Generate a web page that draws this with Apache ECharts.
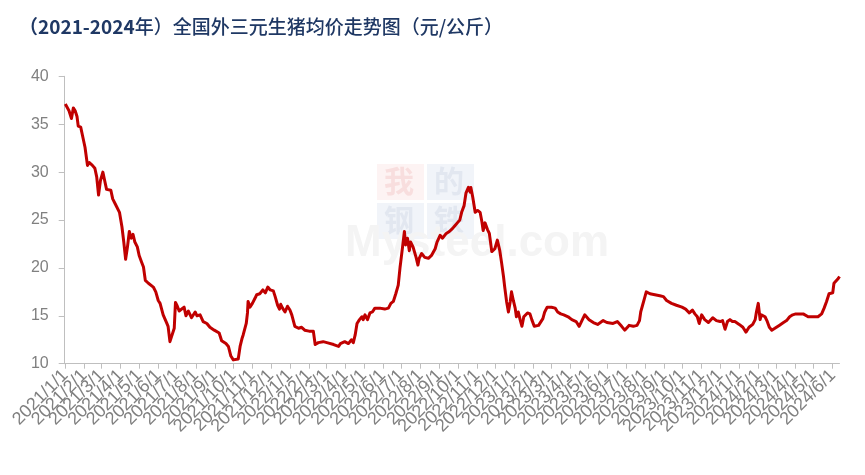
<!DOCTYPE html>
<html>
<head>
<meta charset="utf-8">
<script src="https://cdn.jsdelivr.net/npm/echarts@6/dist/echarts.min.js"></script>
<style>html,body{margin:0;padding:0;background:#fff;}#c{width:865px;height:475px;}</style>
</head>
<body>
<div id="c"></div>
<script>
// ---- data ----
const titleText = '（2021-2024年）全国外三元生猪均价走势图（元/公斤）';
const startDate = [2020, 12, 31];   // one padding day before the first point
const endDate = [2024, 6, 12];
const yTicks = [10, 15, 20, 25, 30, 35, 40];

const priceDates = [
'2021/1/1','2021/1/3','2021/1/7','2021/1/11','2021/1/14','2021/1/17','2021/1/20','2021/1/22','2021/1/26','2021/1/29',
'2021/2/2','2021/2/6','2021/2/9','2021/2/14','2021/2/18','2021/2/21','2021/2/24','2021/2/27','2021/3/3','2021/3/6',
'2021/3/9','2021/3/16','2021/3/19','2021/3/23','2021/3/30','2021/4/3','2021/4/6','2021/4/9','2021/4/12','2021/4/15',
'2021/4/18','2021/4/21','2021/4/24','2021/4/28','2021/5/1','2021/5/5','2021/5/8','2021/5/11','2021/5/16','2021/5/24',
'2021/5/28','2021/6/1','2021/6/4','2021/6/9','2021/6/15','2021/6/17','2021/6/20','2021/6/23','2021/6/27','2021/6/29',
'2021/7/2','2021/7/5','2021/7/8','2021/7/13','2021/7/16','2021/7/20','2021/7/25','2021/7/31','2021/8/3','2021/8/8',
'2021/8/13','2021/8/19','2021/8/24','2021/8/31','2021/9/8','2021/9/12','2021/9/19','2021/9/23','2021/9/27','2021/10/1',
'2021/10/9','2021/10/12','2021/10/15','2021/10/17','2021/10/22','2021/10/24','2021/10/25','2021/10/28','2021/11/1','2021/11/5',
'2021/11/8','2021/11/13','2021/11/18','2021/11/22','2021/11/26','2021/11/30','2021/12/5','2021/12/8','2021/12/12','2021/12/15',
'2021/12/17','2021/12/20','2021/12/24','2021/12/28','2022/1/1','2022/1/4','2022/1/9','2022/1/15','2022/1/20','2022/1/25',
'2022/2/1','2022/2/8','2022/2/11','2022/2/16','2022/2/24','2022/3/2','2022/3/13','2022/3/21','2022/3/24','2022/3/31',
'2022/4/6','2022/4/11','2022/4/14','2022/4/17','2022/4/20','2022/4/24','2022/4/28','2022/4/30','2022/5/3','2022/5/7',
'2022/5/11','2022/5/15','2022/5/19','2022/5/27','2022/6/4','2022/6/10','2022/6/14','2022/6/18','2022/6/22','2022/6/26',
'2022/6/29','2022/6/30','2022/7/3','2022/7/6','2022/7/8','2022/7/11','2022/7/14','2022/7/16','2022/7/20','2022/7/25',
'2022/7/28','2022/7/30','2022/8/3','2022/8/8','2022/8/14','2022/8/19','2022/8/25','2022/8/28','2022/9/2','2022/9/6',
'2022/9/12','2022/9/17','2022/9/22','2022/9/26','2022/9/30','2022/10/4','2022/10/7','2022/10/11','2022/10/14','2022/10/18',
'2022/10/21','2022/10/22','2022/10/25','2022/10/29','2022/11/2','2022/11/6','2022/11/9','2022/11/11','2022/11/14','2022/11/18',
'2022/11/21','2022/11/25','2022/11/30','2022/12/4','2022/12/8','2022/12/11','2022/12/14','2022/12/16','2022/12/19','2022/12/22',
'2022/12/25','2022/12/27','2022/12/30','2023/1/2','2023/1/4','2023/1/7','2023/1/10','2023/1/13','2023/1/16','2023/1/22',
'2023/1/26','2023/1/29','2023/2/2','2023/2/5','2023/2/9','2023/2/12','2023/2/16','2023/2/19','2023/2/23','2023/3/2',
'2023/3/8','2023/3/12','2023/3/17','2023/3/22','2023/3/29','2023/4/4','2023/4/11','2023/4/16','2023/4/22','2023/4/25',
'2023/5/2','2023/5/9','2023/5/16','2023/5/19','2023/5/25','2023/5/31','2023/6/10','2023/6/17','2023/6/24','2023/6/29',
'2023/7/6','2023/7/13','2023/7/19','2023/7/23','2023/7/25','2023/7/28','2023/7/31','2023/8/3','2023/8/9','2023/8/17',
'2023/8/25','2023/8/31','2023/9/5','2023/9/13','2023/9/21','2023/9/30','2023/10/6','2023/10/12','2023/10/17','2023/10/21',
'2023/10/25','2023/10/28','2023/11/1','2023/11/6','2023/11/12','2023/11/19','2023/11/22','2023/11/25','2023/12/1','2023/12/5',
'2023/12/9','2023/12/13','2023/12/17','2023/12/21','2023/12/25','2024/1/1','2024/1/7','2024/1/12','2024/1/17','2024/1/23',
'2024/1/27','2024/1/29','2024/2/1','2024/2/4','2024/2/6','2024/2/12','2024/2/15','2024/2/19','2024/2/23','2024/2/28',
'2024/3/6','2024/3/13','2024/3/18','2024/3/23','2024/3/28','2024/4/2','2024/4/7','2024/4/14','2024/4/22','2024/4/28',
'2024/5/3','2024/5/8','2024/5/14','2024/5/18','2024/5/22','2024/5/26','2024/5/29','2024/6/1','2024/6/3','2024/6/6',
'2024/6/10','2024/6/12'
];
const priceValues = [
37.1,37.0,36.4,35.6,36.7,36.4,35.8,34.8,34.7,33.8,
32.6,30.7,31.0,30.7,30.4,29.5,27.6,29.1,30.0,29.1,
28.2,28.1,27.2,26.7,25.8,24.3,22.7,20.9,22.2,23.8,
23.1,23.5,22.7,22.2,21.3,20.6,20.1,18.7,18.4,18.0,
17.5,16.6,16.3,15.1,14.2,13.9,12.3,12.2,13.7,16.4,
16.0,15.5,15.7,15.9,15.0,15.5,14.8,15.4,15.0,15.1,
14.4,14.2,13.8,13.5,13.2,12.4,12.1,11.8,10.8,10.4,
10.5,11.8,12.6,13.0,14.2,15.3,16.5,15.9,16.3,16.8,
17.2,17.3,17.7,17.4,18.0,17.7,17.6,17.0,16.1,15.7,
16.2,15.8,15.4,16.0,15.6,15.1,13.9,13.7,13.8,13.5,
13.4,13.4,12.0,12.2,12.3,12.2,12.0,11.8,12.1,12.3,
12.1,12.5,12.2,13.0,14.2,14.6,14.9,14.6,15.1,14.6,
15.3,15.4,15.8,15.8,15.7,15.8,16.3,16.5,17.3,18.2,
20.1,20.6,22.2,23.8,22.4,23.1,21.8,22.7,22.2,21.1,
20.3,21.0,21.5,21.1,21.0,21.3,22.0,22.7,23.4,23.1,
23.6,23.8,24.1,24.4,24.7,25.0,25.8,26.5,27.8,28.4,
27.9,28.4,27.4,25.8,26.0,25.8,24.8,23.9,24.7,24.0,
23.6,21.7,22.0,22.9,21.8,20.5,19.1,18.0,16.5,15.4,
16.5,17.5,16.6,15.8,14.9,15.4,14.6,13.9,14.9,15.3,
15.2,14.6,13.9,13.7,14.0,14.1,14.7,15.4,15.9,15.9,
15.8,15.4,15.2,15.1,14.9,14.6,14.4,13.9,14.7,15.1,
14.6,14.3,14.1,14.0,14.5,14.3,14.2,14.4,13.9,13.5,
14.0,13.9,14.0,14.5,15.4,16.1,16.8,17.5,17.3,17.2,
17.1,17.0,16.6,16.3,16.1,15.9,15.7,15.3,15.6,15.2,
14.9,14.2,15.1,14.6,14.3,14.8,14.6,14.5,14.4,14.5,
13.6,14.4,14.6,14.4,14.4,14.1,13.8,13.3,13.8,14.1,
14.6,15.4,16.3,14.6,15.1,14.9,14.5,13.8,13.5,13.7,
14.0,14.3,14.5,14.9,15.1,15.2,15.2,15.2,14.9,14.9,
14.9,14.9,15.2,15.8,16.5,17.3,17.5,17.4,18.4,18.5,
18.9,19.1
];

// ---- build daily category axis ----
const categories = [];
{
  const d = new Date(Date.UTC(startDate[0], startDate[1]-1, startDate[2]));
  const e = new Date(Date.UTC(endDate[0], endDate[1]-1, endDate[2]));
  while (d <= e) {
    categories.push(d.getUTCFullYear() + '/' + (d.getUTCMonth()+1) + '/' + d.getUTCDate());
    d.setUTCDate(d.getUTCDate()+1);
  }
}
const isMonthStart = (idx, val) => String(val).split('/')[2] === '1';
// first and last categories carry empty labels so that every month label is kept
const labelSlot = (idx, val) => idx === 0 || idx === categories.length - 1 || isMonthStart(idx, val);
const seriesData = priceDates.map((d, i) => [d, priceValues[i]]);

const chart = echarts.init(document.getElementById('c'), null, {renderer: 'canvas'});
chart.setOption({
  backgroundColor: '#ffffff',
  animation: false,
  title: {
    text: '{b|（2021-2024}{n|年）全国外三元生猪均价走势图（元/公斤）}',
    left: 14, top: 12,
    textStyle: {
      rich: {
        b: {fontFamily: '"Noto Sans CJK SC", sans-serif', fontSize: 19, fontWeight: 'bold', color: '#1F3864'},
        n: {fontFamily: '"Noto Sans CJK SC", sans-serif', fontSize: 19, fontWeight: 500, color: '#1F3864'}
      }
    }
  },
  graphic: [
    {type: 'rect', left: 377, top: 164, shape: {width: 47, height: 36}, style: {fill: '#fdf3f3'}, z: -10},
    {type: 'rect', left: 427, top: 164, shape: {width: 47, height: 36}, style: {fill: '#f1f4f9'}, z: -10},
    {type: 'rect', left: 377, top: 203, shape: {width: 47, height: 36}, style: {fill: '#f1f4f9'}, z: -10},
    {type: 'rect', left: 427, top: 203, shape: {width: 47, height: 36}, style: {fill: '#f1f4f9'}, z: -10},
    {type: 'text', left: 384, top: 166, style: {text: '我', font: 'bold 30px "Noto Sans CJK SC"', fill: '#f8dede'}, z: -9},
    {type: 'text', left: 434, top: 166, style: {text: '的', font: 'bold 30px "Noto Sans CJK SC"', fill: '#e2e7f0'}, z: -9},
    {type: 'text', left: 384, top: 205, style: {text: '钢', font: 'bold 30px "Noto Sans CJK SC"', fill: '#e2e7f0'}, z: -9},
    {type: 'text', left: 434, top: 205, style: {text: '铁', font: 'bold 30px "Noto Sans CJK SC"', fill: '#e2e7f0'}, z: -9},
    {type: 'text', left: 345, top: 222, style: {text: 'Mysteel.com', font: 'bold 44px "Liberation Sans"', fill: '#f4f4f4'}, z: -8}
  ],
  grid: {left: 64.7, right: 25.5, top: 76.3, bottom: 111.3, containLabel: false},
  xAxis: {
    type: 'category',
    data: categories,
    boundaryGap: false,
    axisLine: {show: true, lineStyle: {color: '#bfbfbf', width: 1}},
    axisTick: {show: true, interval: isMonthStart, length: 5, lineStyle: {color: '#bfbfbf'}},
    axisLabel: {
      interval: labelSlot, rotate: 45, margin: 9,
      showMinLabel: true, showMaxLabel: true, hideOverlap: false,
      formatter: (val) => String(val).split('/')[2] === '1' ? val : '',
      color: '#808080', fontSize: 18, fontFamily: '"Liberation Sans", Arial, sans-serif'
    },
    splitLine: {show: false}
  },
  yAxis: {
    type: 'value',
    min: yTicks[0], max: yTicks[yTicks.length-1], interval: 5,
    axisLine: {show: true, lineStyle: {color: '#bfbfbf', width: 1}},
    axisTick: {show: true, length: 6, lineStyle: {color: '#bfbfbf'}},
    axisLabel: {margin: 16, color: '#808080', fontSize: 16, fontFamily: '"Liberation Sans", Arial, sans-serif'},
    splitLine: {show: false}
  },
  series: [{
    type: 'line',
    data: seriesData,
    showSymbol: false,
    symbol: 'none',
    lineStyle: {color: '#C00000', width: 3, join: 'round'},
    itemStyle: {color: '#C00000'}
  }]
});
</script>
</body>
</html>
